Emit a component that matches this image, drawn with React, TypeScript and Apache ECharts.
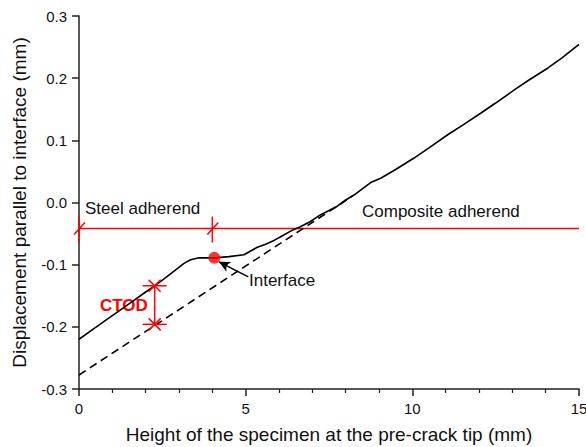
import React, { useEffect, useRef } from "react";
import * as echarts from "echarts";

const measured: number[][] = [
  [0, -0.22], [0.5, -0.201], [1.0, -0.182], [1.5, -0.163], [2.0, -0.144], [2.27, -0.134],
  [2.6, -0.121], [2.93, -0.107], [3.15, -0.098], [3.35, -0.092], [3.6, -0.089], [4.06, -0.089],
  [4.5, -0.087], [4.95, -0.084], [5.15, -0.078], [5.35, -0.072], [5.6, -0.067], [5.85, -0.061],
  [6.05, -0.055], [6.35, -0.046], [6.64, -0.039], [6.93, -0.031], [7.24, -0.02], [7.5, -0.013],
  [7.75, -0.006], [8.0, 0.004], [8.25, 0.012], [8.5, 0.022], [8.75, 0.032], [9.05, 0.039],
  [9.5, 0.053], [10.05, 0.0715], [10.5, 0.088], [11.06, 0.109], [11.5, 0.124], [12.06, 0.144],
  [12.5, 0.16], [13.07, 0.1815], [13.5, 0.197], [14.07, 0.2164], [14.5, 0.233], [15, 0.2544],
];
const rigidLine: number[][] = [[0, -0.2775], [8.2, 0.01]];
const interfaceLevel: number[][] = [[0, -0.042], [15, -0.042]];
const adherendMarks: number[][] = [[0, -0.042], [4, -0.042]];
const ctodPoints: number[][] = [[2.27, -0.134], [2.27, -0.196]];
const interfacePoint: number[][] = [[4.06, -0.089]];
const arrowFrom = [5.08, -0.1196];
const arrowTo = [4.2, -0.0955];

const RED = "#ff0000";
const FONT = "'Liberation Sans', Arial, sans-serif";

export default function App() {
  const ref = useRef<HTMLDivElement>(null);
  useEffect(() => {
    if (!ref.current) return;
    const chart = echarts.init(ref.current, null, { renderer: "svg" });
    const lineStyle = { stroke: RED, lineWidth: 1.5 };
    chart.setOption({
      animation: false,
      backgroundColor: "#ffffff",
      grid: { left: 79, right: 7, top: 16, bottom: 58, containLabel: false, outerBoundsMode: "none" },
      xAxis: {
        type: "value",
        min: 0,
        max: 15,
        interval: 5,
        name: "Height of the specimen at the pre-crack tip (mm)",
        nameLocation: "middle",
        nameGap: 36,
        nameTextStyle: { fontSize: 19, color: "#111", fontFamily: FONT },
        axisLine: { show: true, onZero: false, lineStyle: { color: "#222", width: 1.5 } },
        axisTick: { show: true, length: 7, lineStyle: { color: "#222", width: 1.5 } },
        minorTick: { show: true, splitNumber: 5, length: 4, lineStyle: { color: "#222", width: 1.2 } },
        axisLabel: { fontSize: 15, color: "#111", margin: 12, fontFamily: FONT },
        splitLine: { show: false },
      },
      yAxis: {
        type: "value",
        min: -0.3,
        max: 0.3,
        interval: 0.1,
        name: "Displacement parallel to interface (mm)",
        nameLocation: "middle",
        nameGap: 50,
        nameTextStyle: { fontSize: 19, color: "#111", fontFamily: FONT },
        axisLine: { show: true, onZero: false, lineStyle: { color: "#222", width: 1.5 } },
        axisTick: { show: true, length: 7, lineStyle: { color: "#222", width: 1.5 } },
        axisLabel: {
          fontSize: 15,
          color: "#111",
          margin: 12,
          fontFamily: FONT,
          formatter: (v: number) => (Math.abs(v) < 1e-9 ? "0.0" : v.toFixed(1)),
        },
        splitLine: { show: false },
      },
      series: [
        {
          type: "line",
          data: interfaceLevel,
          symbol: "none",
          silent: true,
          lineStyle: { color: RED, width: 1.5 },
          z: 2,
        },
        {
          type: "line",
          data: rigidLine,
          symbol: "none",
          silent: true,
          lineStyle: { color: "#000", width: 1.6, type: [8, 5] },
          z: 3,
        },
        {
          type: "line",
          data: measured,
          symbol: "none",
          silent: true,
          lineStyle: { color: "#000", width: 1.6 },
          z: 4,
        },
        {
          type: "custom",
          data: adherendMarks,
          silent: true,
          z: 5,
          renderItem: (params: any, api: any) => {
            const p = api.coord([api.value(0), api.value(1)]);
            return {
              type: "group",
              children: [
                { type: "line", shape: { x1: p[0], y1: p[1] - 12, x2: p[0], y2: p[1] + 14 }, style: lineStyle },
                { type: "line", shape: { x1: p[0] - 5, y1: p[1] + 6, x2: p[0] + 6, y2: p[1] - 6 }, style: lineStyle },
              ],
            };
          },
        },
        {
          type: "line",
          data: ctodPoints,
          symbol: "none",
          silent: true,
          lineStyle: { color: RED, width: 1.5 },
          z: 5,
        },
        {
          type: "custom",
          data: ctodPoints,
          silent: true,
          z: 6,
          renderItem: (params: any, api: any) => {
            const p = api.coord([api.value(0), api.value(1)]);
            return {
              type: "group",
              children: [
                { type: "line", shape: { x1: p[0] - 12, y1: p[1], x2: p[0] + 12, y2: p[1] }, style: lineStyle },
                { type: "line", shape: { x1: p[0] - 6, y1: p[1] - 6, x2: p[0] + 6, y2: p[1] + 6 }, style: lineStyle },
                { type: "line", shape: { x1: p[0] - 6, y1: p[1] + 6, x2: p[0] + 6, y2: p[1] - 6 }, style: lineStyle },
              ],
            };
          },
        },
        {
          type: "scatter",
          data: interfacePoint,
          symbol: "circle",
          symbolSize: 12,
          silent: true,
          itemStyle: { color: RED },
          z: 7,
          markLine: {
            silent: true,
            symbol: ["none", "arrow"],
            symbolSize: [8, 11],
            label: { show: false },
            lineStyle: { color: "#000", width: 1.5, type: "solid" },
            data: [[{ coord: arrowFrom }, { coord: arrowTo }]],
          },
        },
      ],
      graphic: [
        {
          type: "text",
          left: 85,
          top: 200,
          style: { text: "Steel adherend", fill: "#111", font: `17px ${FONT}` },
        },
        {
          type: "text",
          left: 362,
          top: 203,
          style: { text: "Composite adherend", fill: "#111", font: `17px ${FONT}` },
        },
        {
          type: "text",
          left: 249,
          top: 272,
          style: { text: "Interface", fill: "#111", font: `17px ${FONT}` },
        },
        {
          type: "text",
          left: 100,
          top: 297,
          style: { text: "CTOD", fill: RED, font: `bold 17px ${FONT}` },
        },
      ],
    });
    return () => chart.dispose();
  }, []);
  return (
    <div
      ref={ref}
      style={{ position: "fixed", left: 0, top: 0, width: 586, height: 447, background: "#fff" }}
    />
  );
}
